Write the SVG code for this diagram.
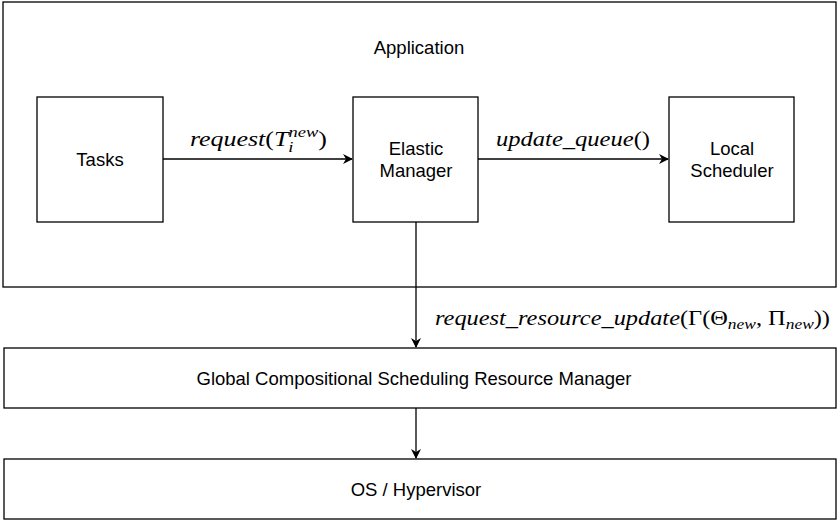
<svg xmlns="http://www.w3.org/2000/svg" width="840" height="527" viewBox="0 0 840 527">
<style>
.box{fill:#fff;stroke:#000;stroke-width:1.3}
.t{font-family:"Liberation Sans",Arial,Helvetica,sans-serif;font-size:18.5px;fill:#000;text-anchor:middle}
.m{font-family:"Liberation Serif","DejaVu Serif",serif;font-style:italic;font-size:21px;fill:#000}
.r{font-style:normal}
.e{stroke:#000;stroke-width:1.3;fill:none}
</style>
<defs>
<marker id="ah" markerWidth="10" markerHeight="10" refX="9" refY="5" orient="auto" markerUnits="userSpaceOnUse">
<path d="M0,0 L10,5 L0,10 L3,5 Z" fill="#000"/>
</marker>
</defs>
<rect width="840" height="527" fill="#fff"/>
<g id="application"><rect class="box" x="3" y="2" width="833" height="285"/><text class="t" x="419" y="54">Application</text></g>
<g id="tasks"><rect class="box" x="37" y="97" width="126" height="125"/><text class="t" x="100" y="166">Tasks</text></g>
<g id="elastic"><rect class="box" x="353" y="97" width="125" height="125"/><text class="t" x="416" y="155">Elastic</text><text class="t" x="416" y="177">Manager</text></g>
<g id="local"><rect class="box" x="669" y="97" width="125" height="125"/><text class="t" x="732" y="155">Local</text><text class="t" x="732" y="177">Scheduler</text></g>
<g id="global"><rect class="box" x="4" y="348" width="832" height="60"/><text class="t" x="414" y="385">Global Compositional Scheduling Resource Manager</text></g>
<g id="os"><rect class="box" x="4" y="459" width="832" height="60"/><text class="t" x="416" y="496">OS / Hypervisor</text></g>
<g id="connectors">
<line class="e" x1="163" y1="159" x2="352" y2="159" marker-end="url(#ah)"/>
<line class="e" x1="478" y1="159" x2="668" y2="159" marker-end="url(#ah)"/>
<line class="e" x1="416" y1="222" x2="416" y2="347" marker-end="url(#ah)"/>
<line class="e" x1="416" y1="408" x2="416" y2="458" marker-end="url(#ah)"/>
<text class="m" x="190" y="146" textLength="137" lengthAdjust="spacingAndGlyphs">request<tspan class="r">(</tspan>T<tspan font-size="15" dy="6">i</tspan><tspan font-size="15" dx="-4" dy="-15">new</tspan><tspan class="r" dy="9">)</tspan></text>
<text class="m" x="496" y="146" textLength="154" lengthAdjust="spacingAndGlyphs">update_queue<tspan class="r">()</tspan></text>
<text class="m" x="435" y="325" textLength="395" lengthAdjust="spacingAndGlyphs">request_resource_update<tspan class="r">(Γ(Θ</tspan><tspan font-size="15" dy="4">new</tspan><tspan class="r" dy="-4">, Π</tspan><tspan font-size="15" dy="4">new</tspan><tspan class="r" dy="-4">))</tspan></text>
</g>
</svg>
